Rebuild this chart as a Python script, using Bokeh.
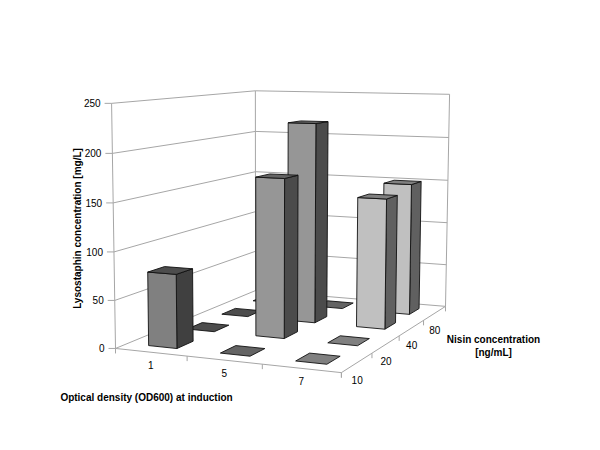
from bokeh.plotting import figure
from bokeh.models import Range1d
from bokeh.core.properties import value
from bokeh.embed import file_html
from bokeh.resources import INLINE
import numpy as np

od_labels = ["1", "5", "7"]
nisin_labels = ["10", "20", "40", "80"]
y_ticks = [0, 50, 100, 150, 200, 250]
nisin_10 = [77, 0, 0]
nisin_20 = [0, 170, 0]
nisin_40 = [0, 222, 143]
nisin_80 = [0, 0, 150]
series = [nisin_10, nisin_20, nisin_40, nisin_80]

front_colors = ["#808080", "#969696", "#c0c0c0"]
side_colors = ["#404040", "#4b4b4b", "#606060"]
top_colors = ["#4d4d4d", "#646464", "#808080"]
GRID = "#a6a6a6"
FONT = "Liberation Sans"

# Camera calibration: (od units, nisin units, mg/L) -> reference pixel
cal_world = [(0,0,0),(3,0,0),(3,4,0),(0,4,0),(0,0,250),(0,4,250),(3,4,250)]
cal_px = [(115,347),(341,373),(445,305),(255,291),(111,103),(255,90),(449,94)]

A = []
b = []
for (X, Y, Z), (px, py) in zip(cal_world, cal_px):
    A.append([X, Y, Z, 1, 0, 0, 0, 0, -px*X, -px*Y, -px*Z])
    b.append(px)
    A.append([0, 0, 0, 0, X, Y, Z, 1, -py*X, -py*Y, -py*Z])
    b.append(py)
sol = np.linalg.lstsq(np.array(A, float), np.array(b, float), rcond=None)[0]
M = np.append(sol, 1.0).reshape(3, 4)


def proj(u, v, h):
    q = M @ np.array([u, v, h, 1.0])
    return q[0] / q[2], q[1] / q[2]


p = figure(width=584, height=434, output_backend="svg", toolbar_location=None,
           x_range=Range1d(0, 584), y_range=Range1d(434, 0),
           min_border=0, outline_line_color=None, background_fill_color="white")
p.xaxis.visible = False
p.yaxis.visible = False
p.grid.visible = False


def seg(pts, color=GRID, width=1.0):
    p.line([q[0] for q in pts], [q[1] for q in pts], line_color=color, line_width=width)


# Walls and gridlines
for h in y_ticks:
    seg([proj(0, 0, h), proj(0, 4, h), proj(3, 4, h)])
    a = proj(0, 0, h)
    seg([(a[0] - 7, a[1]), a])
seg([proj(0, 0, 0), proj(0, 0, 250)])
seg([proj(0, 4, 0), proj(0, 4, 250)])
seg([proj(3, 4, 0), proj(3, 4, 250)])
# Floor edges and ticks
seg([proj(0, 0, 0), proj(3, 0, 0), proj(3, 4, 0)])
for i in range(4):
    a = proj(i, 0, 0)
    seg([a, (a[0], a[1] + 5)])
for j in range(5):
    a = proj(3, j, 0)
    seg([a, (a[0], a[1] + 5)])

W = 0.40
D = 0.42
order = [(j, i) for j in range(3, -1, -1) for i in range(3)]
for j, i in order:
    val = series[j][i]
    u0, u1 = i + 0.5 - W / 2, i + 0.5 + W / 2
    v0, v1 = j + 0.5 - D / 2, j + 0.5 + D / 2
    faces = []
    if val > 0:
        faces.append(([proj(u1, v0, 0), proj(u1, v1, 0), proj(u1, v1, val), proj(u1, v0, val)], side_colors[i]))
        faces.append(([proj(u0, v0, 0), proj(u1, v0, 0), proj(u1, v0, val), proj(u0, v0, val)], front_colors[i]))
    faces.append(([proj(u0, v0, val), proj(u1, v0, val), proj(u1, v1, val), proj(u0, v1, val)], top_colors[i]))
    for pts, col in faces:
        p.patch([q[0] for q in pts], [q[1] for q in pts], fill_color=col,
                line_color="#111111", line_width=0.9, line_join="miter")


def label(x, y, t, bold=False, angle=0.0, align="center"):
    p.text([x], [y], text=[t], text_font=value(FONT), text_font_size="10px",
           text_font_style="bold" if bold else "normal", text_color="#000000",
           text_align=align, text_baseline="middle", angle=angle)


for h in y_ticks:
    a = proj(0, 0, h)
    label(a[0] - 11, a[1], str(h), align="right")
for i, t in enumerate(od_labels):
    a = proj(i + 0.5, 0, 0)
    label(a[0], a[1] + 13, t)
for j, t in enumerate(nisin_labels):
    a = proj(3, j + 0.5, 0)
    label(a[0], a[1] + 17, t)

label(77, 228, "Lysostaphin concentration [mg/L]", bold=True, angle=np.pi / 2)
label(146, 397, "Optical density (OD600) at induction", bold=True)
label(493, 339, "Nisin concentration", bold=True)
label(493, 352, "[ng/mL]", bold=True)

open("out.html", "w").write(file_html(p, INLINE))
